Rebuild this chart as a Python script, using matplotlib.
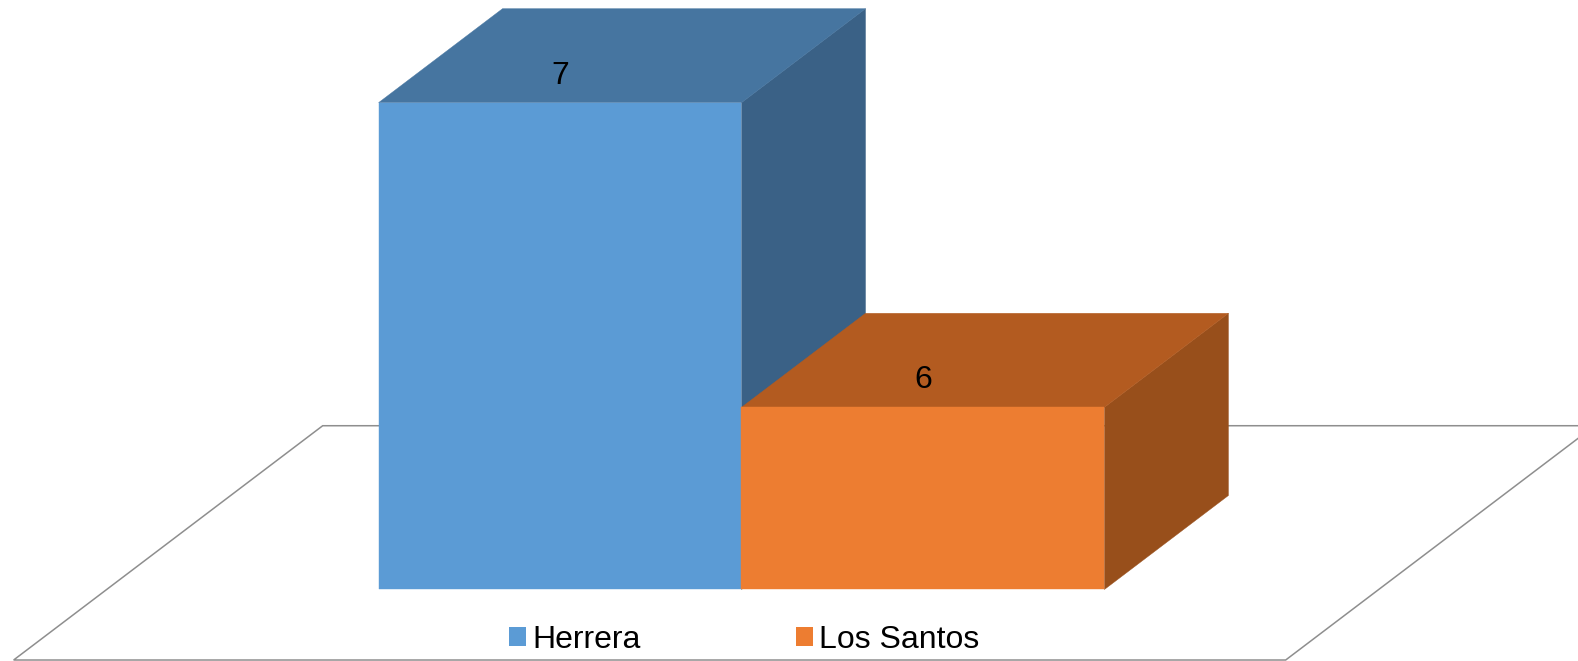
"""Oblique 3D column chart drawn with flat polygons."""
import matplotlib

matplotlib.use("Agg")
import matplotlib.pyplot as plt  # noqa: E402
from matplotlib.patches import Patch, Polygon  # noqa: E402

plt.rcParams["font.family"] = ["Liberation Sans", "DejaVu Sans"]

categories = ["Herrera", "Los Santos"]
values = [7, 6]
labels = ["7", "6"]
front_colors = ["#5B9BD5", "#ED7D31"]
top_colors = ["#4675A0", "#B35B20"]
side_colors = ["#3A6186", "#984F1B"]

BASE = 5.402  # value at the floor, the axis does not start at zero
DEPTH_X = 0.3407  # shift of one unit of depth, in bar widths
DEPTH_Y = 0.3086  # shift of one unit of depth, in value units
BAR_WIDTH = 0.997


def project(x, depth, value):
    return x + depth * DEPTH_X, value + depth * DEPTH_Y


fig = plt.figure(figsize=(15.78, 6.61), dpi=100)
ax = fig.add_axes([0, 0, 1, 1])
ax.set_xlim(-1.040, 3.295)
ax.set_ylim(5.1673, 7.337)
ax.axis("off")

floor = [project(-0.747, -0.75, BASE), project(-0.747, 1.742, BASE),
         project(2.7475, 1.742, BASE), project(2.7475, -0.75, BASE)]
ax.add_patch(Polygon(floor, closed=True, facecolor="white", edgecolor="#8E8E8E", linewidth=1.1, zorder=1))

for i, v in enumerate(values):
    left, right = i * BAR_WIDTH, (i + 1) * BAR_WIDTH
    front = [project(left, 0, BASE), project(left, 0, v), project(right, 0, v), project(right, 0, BASE)]
    top = [project(left, 0, v), project(left, 1, v), project(right, 1, v), project(right, 0, v)]
    side = [project(right, 0, BASE), project(right, 0, v), project(right, 1, v), project(right, 1, BASE)]
    ax.add_patch(Polygon(side, closed=True, facecolor=side_colors[i], edgecolor=side_colors[i],
                         linewidth=0.3, zorder=2 + i))
    ax.add_patch(Polygon(top, closed=True, facecolor=top_colors[i], edgecolor=top_colors[i],
                         linewidth=0.3, zorder=2 + i))
    ax.add_patch(Polygon(front, closed=True, facecolor=front_colors[i], edgecolor=front_colors[i],
                         linewidth=0.3, zorder=3 + i))
    ax.annotate(labels[i], ((left + right) / 2, v), xytext=(0, 27), textcoords="offset pixels",
                ha="center", va="center", fontsize=23, color="black", zorder=10)

handles = [Patch(facecolor=c, edgecolor="none") for c in front_colors]
ax.legend(handles, categories, loc="lower center", bbox_to_anchor=(0.4718, -0.034), ncol=2, frameon=False,
          fontsize=23, handlelength=0.53, handleheight=0.53, handletextpad=0.2, columnspacing=4.85)

fig.savefig("out.png", dpi=100)
plt.close(fig)
